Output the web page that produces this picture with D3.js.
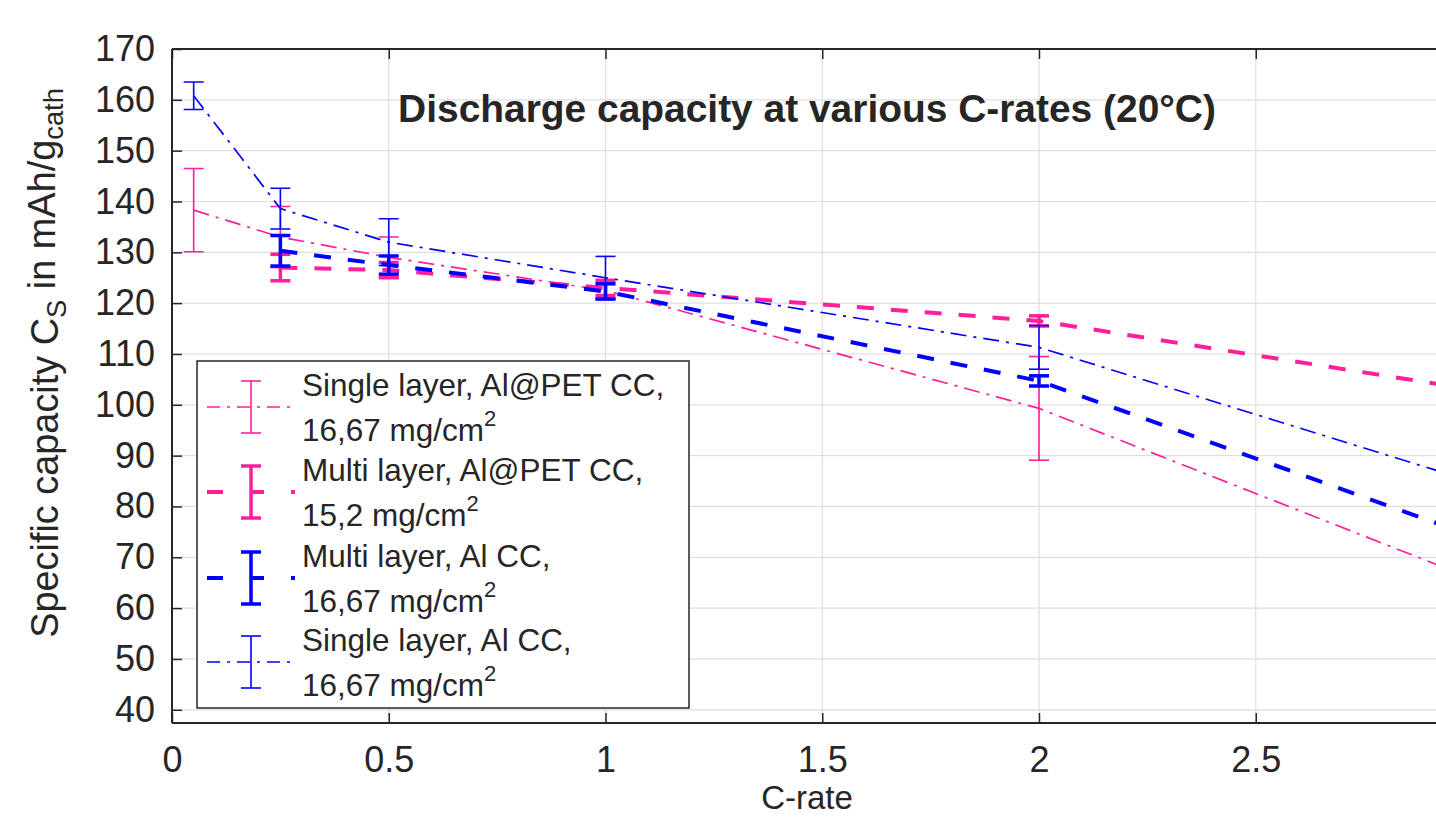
<!DOCTYPE html>
<html><head><meta charset="utf-8">
<script src="https://cdn.jsdelivr.net/npm/d3@7"></script>
<style>html,body{margin:0;padding:0;background:#fff;overflow:hidden}svg{display:block}text{font-family:"Liberation Sans",Arial,sans-serif;fill:#262626}</style>
</head><body>
<script>
// ---- data ----
const singlePetX = [0.05, 0.25, 0.5, 1, 2, 3];
const singlePetY = [138.3, 133, 129, 122.5, 99.3, 65.8];
const singlePetErr = [8.2, 6, 4, 1.5, 10.2, 3];
const multiPetX = [0.25, 0.5, 1, 2, 3];
const multiPetY = [127, 126.5, 123, 116.5, 103];
const multiPetErr = [2.6, 1.5, 1.5, 1, 1.5];
const multiAlX = [0.25, 0.5, 1, 2, 3];
const multiAlY = [130.3, 127.5, 122.3, 104.7, 74.2];
const multiAlErr = [3, 1.8, 1.5, 1, 1.5];
const singleAlX = [0.05, 0.25, 0.5, 1, 2, 3];
const singleAlY = [160.8, 138.6, 132, 125, 111.3, 84.9];
const singleAlErr = [2.7, 4, 4.6, 4.2, 4.3, 3];
const xTicks = [0, 0.5, 1, 1.5, 2, 2.5];
const yTicks = [40, 50, 60, 70, 80, 90, 100, 110, 120, 130, 140, 150, 160, 170];
const legendLine1 = ["Single layer, Al@PET CC,", "Multi layer, Al@PET CC,", "Multi layer, Al CC,", "Single layer, Al CC,"];
const legendLine2 = ["16,67 mg/cm", "15,2 mg/cm", "16,67 mg/cm", "16,67 mg/cm"];
const title = "Discharge capacity at various C-rates (20°C)";

const PINK = "#ff1f9a", BLUE = "#0000ff", AX = "#262626";
const series = [
  {x: singlePetX, y: singlePetY, e: singlePetErr, color: PINK, w: 1.7, dash: "16,7,3,7", capW: 1.6},
  {x: multiPetX, y: multiPetY, e: multiPetErr, color: PINK, w: 4, dash: "17,17", capW: 3.5},
  {x: multiAlX, y: multiAlY, e: multiAlErr, color: BLUE, w: 4, dash: "17,17", capW: 3.5},
  {x: singleAlX, y: singleAlY, e: singleAlErr, color: BLUE, w: 1.7, dash: "16,7,3,7", capW: 1.6}
];

const W = 1436, H = 819;
const L = 172, T = 49, B = 723;
const x = d3.scaleLinear().domain([0, 3]).range([L, L + 3 * 433.5]);
const y = d3.scaleLinear().domain([37.4, 170]).range([B, T]);
const R = x(3);

const svg = d3.select("body").append("svg").attr("width", W).attr("height", H);
svg.append("defs").append("clipPath").attr("id", "clip")
  .append("rect").attr("x", L).attr("y", T).attr("width", R - L).attr("height", B - T);

// fit a text's font size so its rendered width matches target
function fitWidth(sel, target) {
  const fs = parseFloat(sel.attr("font-size"));
  const w = sel.node().getComputedTextLength();
  sel.attr("font-size", fs * target / w);
}

// grid
const g = svg.append("g");
g.selectAll(".gx").data(xTicks).join("line")
  .attr("x1", d => x(d)).attr("x2", d => x(d)).attr("y1", T).attr("y2", B)
  .attr("stroke", "#dedede").attr("stroke-width", 1.2);
g.selectAll(".gy").data(yTicks).join("line")
  .attr("x1", L).attr("x2", R).attr("y1", d => y(d)).attr("y2", d => y(d))
  .attr("stroke", "#dedede").attr("stroke-width", 1.2);

// axes with inward ticks
const yAxis = d3.axisLeft(y).tickValues(yTicks).tickSize(-10).tickPadding(17);
const xAxis = d3.axisBottom(x).tickValues(xTicks).tickSize(-10).tickPadding(23).tickFormat(d3.format("~g"));
const ya = svg.append("g").attr("transform", `translate(${L},0)`).call(yAxis);
const xa = svg.append("g").attr("transform", `translate(0,${B})`).call(xAxis);
const xt = svg.append("g").attr("transform", `translate(0,${T})`).call(d3.axisTop(x).tickValues(xTicks).tickSize(-10).tickFormat(""));
[ya, xa, xt].forEach(a => {
  a.select(".domain").remove();
  a.selectAll(".tick line").attr("stroke", AX).attr("stroke-width", 1.5);
  a.selectAll("text").attr("font-size", 36).attr("fill", AX).style("font-family", '"Liberation Sans",Arial,sans-serif');
});
// box
svg.append("line").attr("x1", L).attr("x2", R).attr("y1", T).attr("y2", T).attr("stroke", AX).attr("stroke-width", 2);
svg.append("line").attr("x1", L).attr("x2", R).attr("y1", B).attr("y2", B).attr("stroke", AX).attr("stroke-width", 2);
svg.append("line").attr("x1", L).attr("x2", L).attr("y1", T).attr("y2", B).attr("stroke", AX).attr("stroke-width", 2);

// data
const plot = svg.append("g").attr("clip-path", "url(#clip)");
const line = d3.line().x(d => x(d[0])).y(d => y(d[1]));
series.forEach(s => {
  const pts = s.x.map((v, i) => [v, s.y[i], s.e[i]]);
  plot.append("path").datum(pts).attr("d", line).attr("fill", "none")
    .attr("stroke", s.color).attr("stroke-width", s.w).attr("stroke-dasharray", s.dash);
  const eb = plot.append("g").attr("stroke", s.color);
  eb.selectAll(".v").data(pts).join("line")
    .attr("x1", d => x(d[0])).attr("x2", d => x(d[0]))
    .attr("y1", d => y(d[1] - d[2])).attr("y2", d => y(d[1] + d[2])).attr("stroke-width", s.capW);
  ["-", "+"].forEach(sg => {
    eb.selectAll(".c" + (sg === "+" ? "p" : "m")).data(pts).join("line")
      .attr("x1", d => x(d[0]) - 10).attr("x2", d => x(d[0]) + 10)
      .attr("y1", d => y(sg === "+" ? d[1] + d[2] : d[1] - d[2]))
      .attr("y2", d => y(sg === "+" ? d[1] + d[2] : d[1] - d[2]))
      .attr("stroke-width", s.capW);
  });
});

// title
const tt = svg.append("text").attr("x", 807).attr("y", 122).attr("text-anchor", "middle")
  .attr("font-size", 30).attr("font-weight", "bold").attr("fill", "#000").text(title);
fitWidth(tt, 818);

// y label
const yl = svg.append("text").attr("transform", "translate(58,363) rotate(-90)")
  .attr("text-anchor", "middle").attr("font-size", 31);
yl.append("tspan").text("Specific capacity  C");
yl.append("tspan").attr("font-size", "0.72em").attr("dy", "0.3em").text("S");
yl.append("tspan").attr("dy", "-0.3em").text(" in mAh/g");
yl.append("tspan").attr("font-size", "0.72em").attr("dy", "0.3em").text("cath");
fitWidth(yl, 550);

// x label
svg.append("text").attr("x", 807).attr("y", 809).attr("text-anchor", "middle").attr("font-size", 33).text("C-rate");

// legend
const lg = svg.append("g");
lg.append("rect").attr("x", 197).attr("y", 361).attr("width", 492).attr("height", 347)
  .attr("fill", "#fff").attr("stroke", AX).attr("stroke-width", 1.5);
const entryY = [407, 492, 578, 662];
series.forEach((s, i) => {
  const cy = entryY[i];
  lg.append("line").attr("x1", 207).attr("x2", 295).attr("y1", cy).attr("y2", cy)
    .attr("stroke", s.color).attr("stroke-width", s.w).attr("stroke-dasharray", s.w > 2 ? "16,27,14,27" : "13,7,3,7");
  lg.append("line").attr("x1", 251).attr("x2", 251).attr("y1", cy - 26).attr("y2", cy + 26).attr("stroke", s.color).attr("stroke-width", s.capW);
  [-26, 26].forEach(o => lg.append("line").attr("x1", 241).attr("x2", 261).attr("y1", cy + o).attr("y2", cy + o).attr("stroke", s.color).attr("stroke-width", s.capW));
  lg.append("text").attr("x", 302).attr("y", cy - 11).attr("font-size", 31.5).text(legendLine1[i]);
  const t2 = lg.append("text").attr("x", 302).attr("y", cy + 34).attr("font-size", 31.5);
  t2.append("tspan").text(legendLine2[i]);
  t2.append("tspan").attr("font-size", 22).attr("dy", -15).text("2");
});
</script>
</body></html>
